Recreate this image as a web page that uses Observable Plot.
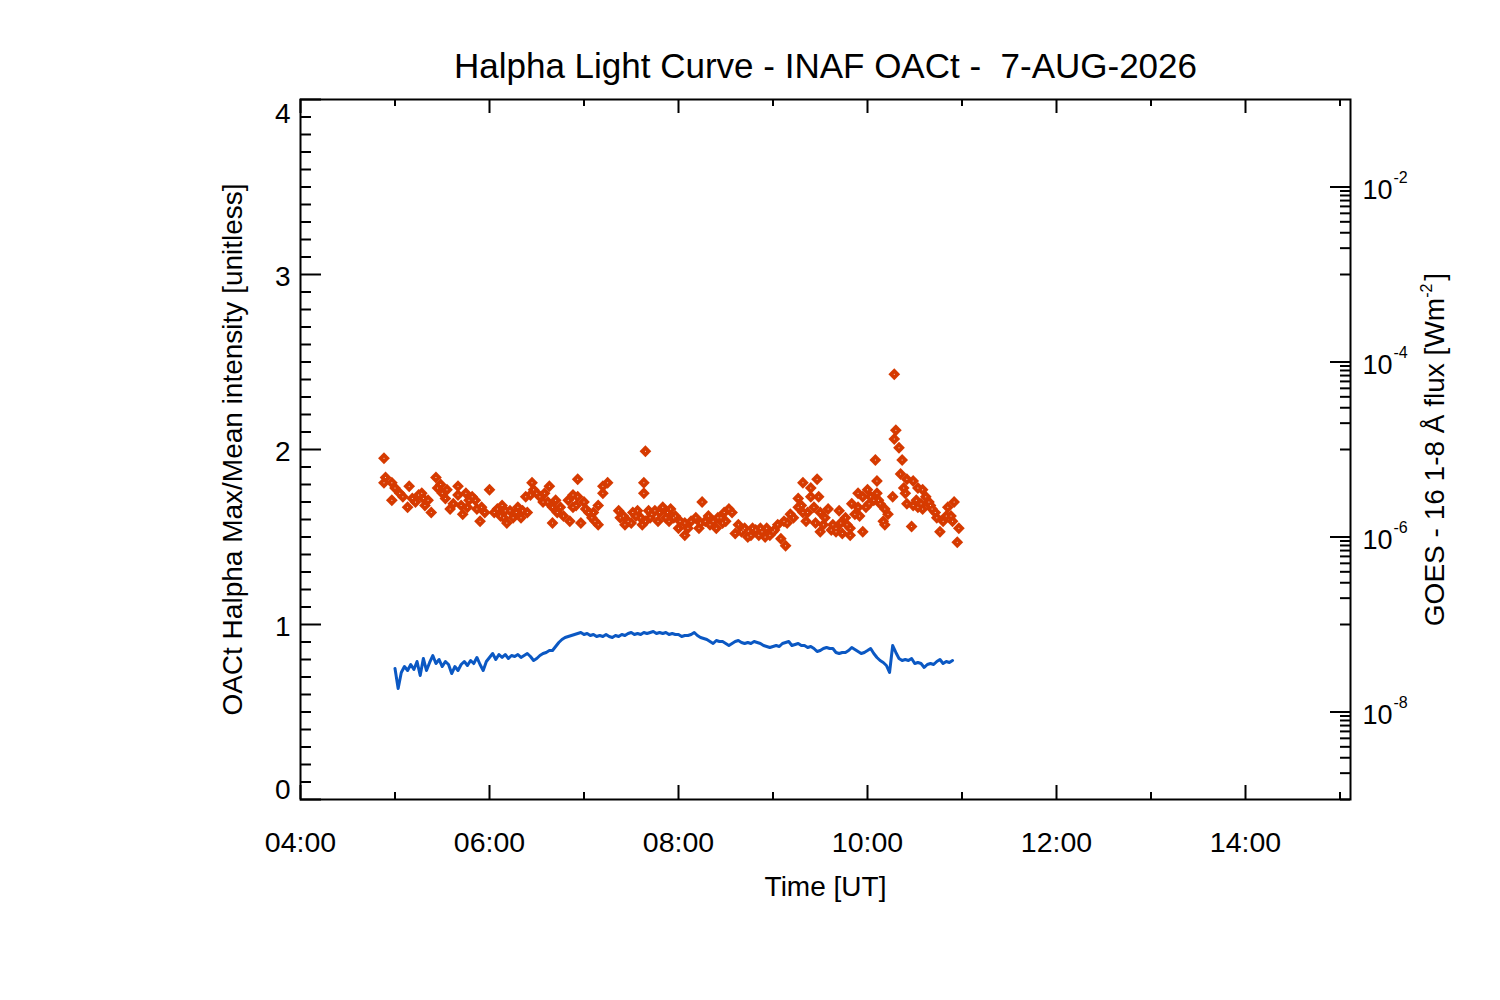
<!DOCTYPE html>
<html>
<head>
<meta charset="utf-8">
<script src="https://cdn.jsdelivr.net/npm/d3@7"></script>
<script src="https://cdn.jsdelivr.net/npm/@observablehq/plot@0.6"></script>
<style>
  body { margin: 0; background: #fff; }
  svg text { white-space: pre; }
</style>
</head>
<body>
<div id="chart"></div>
<script>
// ---------- texts ----------
const titleText = "Halpha Light Curve - INAF OACt -  7-AUG-2026";
const xLabel = "Time [UT]";
const yLabelLeft = "OACt Halpha Max/Mean intensity [unitless]";
const yLabelRightParts = ["GOES - 16 1-8 Å flux [Wm", "-2", "]"];

// ---------- axes ----------
const xTickHours = [4, 5, 6, 7, 8, 9, 10, 11, 12, 13, 14, 15];
const xLabelHours = [4, 6, 8, 10, 12, 14];
const leftTickLabels = [0, 1, 2, 3, 4];
const goesLabelDecades = [-8, -6, -4, -2];
const goesMinorFactors = [1, 2, 3, 4, 5, 6, 7, 8, 9];

// ---------- Halpha max/mean ratio (red diamonds) ----------
const haTime = [
  "04:53","04:53","04:54","04:58","04:58","05:00","05:05","05:08","05:09","05:11",
  "05:13","05:17","05:18","05:19","05:23","05:26","05:27","05:30","05:32","05:35",
  "05:40","05:40","05:42","05:43","05:45","05:47","05:49","05:52","05:54","05:57",
  "06:00","06:05","06:08","06:09","06:11","06:13","06:15","06:18","06:21","06:23",
  "06:24","06:27","06:28","06:30","06:34","06:37","06:38","06:40","06:40","06:43",
  "06:47","06:50","06:51","06:53","06:53","06:56","06:56","06:58","07:00","07:01",
  "07:05","07:06","07:09","07:09","07:12","07:12","07:15","07:22","07:25","07:26",
  "07:28","07:31","07:34","07:36","07:37","07:38","07:38","07:39","07:41","07:42",
  "07:45","07:47","07:50","07:52","07:53","07:55","07:57","08:00","08:04","08:04",
  "08:08","08:11","08:13","08:15","08:17","08:20","08:22","08:25","08:28","08:29",
  "08:32","08:34","08:36","08:38","08:41","08:44","08:49","08:53","08:55","08:56",
  "09:00","09:03","09:05","09:07","09:08","09:11","09:16","09:16","09:19","09:19",
  "09:21","09:24","09:24","09:26","09:27","09:28","09:29","09:30","09:30","09:32",
  "09:35","09:37","09:40","09:42","09:43","09:44","09:46","09:49","09:49","09:50",
  "09:52","09:54","09:54","09:57","09:57","09:59","10:00","10:04","10:05","10:06",
  "10:06","10:08","10:10","10:11","10:11","10:13","10:16","10:17","10:17","10:18",
  "10:20","10:21","10:22","10:23","10:25","10:25","10:28","10:29","10:29","10:32",
  "10:32","10:35","10:35","10:37","10:39","10:41","10:44","10:46","10:48","10:51",
  "10:53","10:55","10:57","10:58",
  "05:03","05:15","05:21","05:29","05:33","05:37","05:46","05:51","05:55","06:03",
  "06:07","06:10","06:17","06:20","06:26","06:32","06:35","06:42","06:45","06:55",
  "07:03","07:07","07:23","07:30","07:33","07:39","07:43","07:48","07:54","07:58",
  "08:01","08:06","08:14","08:19","08:24","08:27","08:30","08:40","08:42","08:46",
  "08:47","08:51","08:52","08:58","09:01","09:09","09:13","09:18","09:22","09:33",
  "09:38","09:40","09:47","09:55","10:01","10:02","10:07","10:24","10:31","10:34",
  "10:40","10:43","10:50","10:54"
];
const haRatio = [
  1.95,1.81,1.84,1.81,1.71,1.78,1.73,1.67,1.79,1.72,
  1.70,1.75,1.72,1.68,1.64,1.84,1.78,1.75,1.72,1.66,
  1.74,1.79,1.68,1.63,1.75,1.71,1.73,1.66,1.59,1.64,
  1.77,1.66,1.68,1.61,1.58,1.65,1.61,1.67,1.65,1.73,
  1.64,1.81,1.77,1.75,1.70,1.70,1.79,1.67,1.58,1.64,
  1.62,1.71,1.59,1.74,1.67,1.83,1.73,1.58,1.70,1.66,
  1.61,1.64,1.57,1.68,1.79,1.75,1.81,1.65,1.62,1.57,
  1.59,1.64,1.65,1.61,1.57,1.81,1.75,1.99,1.65,1.61,
  1.65,1.59,1.67,1.61,1.64,1.66,1.61,1.55,1.58,1.51,
  1.59,1.61,1.55,1.70,1.59,1.57,1.59,1.61,1.58,1.64,
  1.66,1.64,1.52,1.57,1.54,1.50,1.54,1.53,1.50,1.55,
  1.53,1.57,1.49,1.59,1.45,1.63,1.67,1.72,1.64,1.81,
  1.59,1.78,1.73,1.67,1.58,1.83,1.73,1.64,1.53,1.57,
  1.66,1.54,1.55,1.65,1.58,1.52,1.61,1.55,1.51,1.69,
  1.63,1.75,1.67,1.73,1.53,1.67,1.77,1.71,1.94,1.82,
  1.75,1.69,1.59,1.66,1.57,1.63,1.73,2.43,2.06,2.11,
  2.01,1.86,1.94,1.78,1.83,1.69,1.56,1.68,1.82,1.78,
  1.67,1.77,1.66,1.73,1.70,1.66,1.61,1.53,1.59,1.67,
  1.62,1.70,1.47,1.55,
  1.75,1.74,1.71,1.80,1.77,1.69,1.67,1.71,1.67,1.64,
  1.62,1.65,1.64,1.61,1.74,1.73,1.75,1.71,1.67,1.68,
  1.64,1.59,1.61,1.58,1.62,1.59,1.63,1.64,1.59,1.62,
  1.59,1.55,1.58,1.62,1.55,1.61,1.59,1.53,1.55,1.51,
  1.55,1.51,1.55,1.51,1.54,1.58,1.61,1.68,1.64,1.61,
  1.57,1.53,1.57,1.62,1.69,1.73,1.71,1.75,1.71,1.69,
  1.68,1.64,1.62,1.59
];

// ---------- GOES-16 1-8 Å flux (blue line), units of 1e-8 W m^-2 ----------
const goesUnit = 1e-8;
const goesTime = [
  "05:00","05:02","05:04","05:06","05:08","05:10","05:12","05:14","05:16","05:18",
  "05:20","05:22","05:24","05:26","05:28","05:30","05:32","05:34","05:36","05:38",
  "05:40","05:42","05:44","05:46","05:48","05:50","05:52","05:54","05:56","05:58",
  "06:00","06:02","06:04","06:06","06:08","06:10","06:12","06:14","06:16","06:18",
  "06:20","06:22","06:24","06:26","06:28","06:30","06:32","06:34","06:36","06:38",
  "06:40","06:42","06:44","06:46","06:48","06:50","06:52","06:54","06:56","06:58",
  "07:00","07:02","07:04","07:06","07:08","07:10","07:12","07:14","07:16","07:18",
  "07:20","07:22","07:24","07:26","07:28","07:30","07:32","07:34","07:36","07:38",
  "07:40","07:42","07:44","07:46","07:48","07:50","07:52","07:54","07:56","07:58",
  "08:00","08:02","08:04","08:06","08:08","08:10","08:12","08:14","08:16","08:18",
  "08:20","08:22","08:24","08:26","08:28","08:30","08:32","08:34","08:36","08:38",
  "08:40","08:42","08:44","08:46","08:48","08:50","08:52","08:54","08:56","08:58",
  "09:00","09:02","09:04","09:06","09:08","09:10","09:12","09:14","09:16","09:18",
  "09:20","09:22","09:24","09:26","09:28","09:30","09:32","09:34","09:36","09:38",
  "09:40","09:42","09:44","09:46","09:48","09:50","09:52","09:54","09:56","09:58",
  "10:00","10:02","10:04","10:06","10:08","10:10","10:12","10:14","10:16","10:18",
  "10:20","10:22","10:24","10:26","10:28","10:30","10:32","10:34","10:36","10:38",
  "10:40","10:42","10:44","10:46","10:48","10:50","10:52","10:54"
];
const goesFlux = [
  3.14,1.86,2.83,3.31,2.98,3.49,3.06,3.78,2.61,4.09,
  2.98,3.68,4.42,3.58,3.98,3.31,3.78,3.49,2.75,3.31,
  2.98,3.49,3.78,3.40,3.88,3.58,4.20,3.49,2.98,3.78,
  4.20,4.66,3.98,4.54,4.20,4.54,4.09,4.42,4.31,4.54,
  4.20,4.42,4.66,4.31,3.88,4.09,4.42,4.66,4.79,5.04,
  5.04,5.61,6.23,6.74,7.10,7.29,7.48,7.69,7.89,8.11,
  7.69,7.89,7.48,7.69,7.29,7.48,7.29,7.69,7.29,7.10,
  7.48,7.29,7.69,7.48,7.89,8.11,7.69,7.89,7.69,8.11,
  7.89,8.11,8.32,7.89,8.11,7.89,8.11,7.69,7.89,7.69,
  7.69,7.29,7.48,7.48,7.69,8.11,7.48,7.10,6.92,6.74,
  6.39,6.07,6.56,6.39,6.39,6.07,5.75,6.07,6.39,6.56,
  6.23,6.07,6.23,6.07,6.39,6.23,6.07,5.75,5.61,5.46,
  5.61,5.75,5.61,6.07,6.23,6.39,5.75,5.91,6.07,5.75,
  5.75,5.46,5.61,5.32,4.91,5.04,5.32,5.46,5.32,5.32,
  4.79,4.66,4.79,4.79,5.04,5.46,5.18,4.91,4.66,4.79,
  5.04,5.32,4.66,4.20,3.88,3.68,3.40,2.83,5.75,4.79,
  4.09,3.88,3.98,3.88,4.09,3.58,3.68,3.58,3.23,3.49,
  3.58,3.49,3.78,3.98,3.58,3.78,3.68,3.88
];

// ---------- helpers ----------
const hm = s => { const [h, m] = s.split(":").map(Number); return h + m / 60; };
// right log axis: 1e-9 .. 1e-1 spans the left axis 0 .. 4
const goesToLeft = f => (Math.log10(f) + 9) / 2;
const fmtHour = h => String(h).padStart(2, "0") + ":00";

const haData = haTime.map((t, i) => ({t: hm(t), v: haRatio[i]}));
const goesData = goesTime.map((t, i) => ({t: hm(t), f: goesFlux[i] * goesUnit}));

const goesMajor = goesLabelDecades.map(m => Math.pow(10, m));
const goesMinor = goesLabelDecades.flatMap(m => goesMinorFactors.map(k => k * Math.pow(10, m - 1)));

const W = 1500, H = 1000;
const mL = 300, mR = 150, mT = 99, mB = 201;
const fw = W - mL - mR, fh = H - mT - mB;
const FONT = "'Liberation Sans', Arial, Helvetica, sans-serif";
const tick = {stroke: "black", strokeWidth: 2};
const txt = {fill: "black", lineAnchor: "middle"};

const chart = Plot.plot({
  width: W, height: H,
  marginLeft: mL, marginRight: mR, marginTop: mT, marginBottom: mB,
  style: {fontFamily: FONT, background: "white", color: "black"},
  x: {domain: [4, 4 + 1050 / 94.5], axis: null},
  y: {domain: [0, 4], axis: null},
  marks: [
    Plot.frame({stroke: "black", strokeWidth: 2}),
    // bottom & top ticks
    Plot.tickX(xTickHours.filter(h => h % 2 === 0), {x: d => d, insetTop: fh - 14, ...tick}),
    Plot.tickX(xTickHours.filter(h => h % 2 === 1), {x: d => d, insetTop: fh - 7, ...tick}),
    Plot.tickX(xTickHours.filter(h => h % 2 === 0), {x: d => d, insetBottom: fh - 14, ...tick}),
    Plot.tickX(xTickHours.filter(h => h % 2 === 1), {x: d => d, insetBottom: fh - 7, ...tick}),
    // left ticks
    Plot.tickY(d3.range(0, 41).filter(i => i % 10 === 0).map(i => i / 10), {y: d => d, insetRight: fw - 21, ...tick}),
    Plot.tickY(d3.range(0, 41).filter(i => i % 10 !== 0).map(i => i / 10), {y: d => d, insetRight: fw - 11, ...tick}),
    // right (GOES log) ticks
    Plot.tickY(goesMajor, {y: f => goesToLeft(f), insetLeft: fw - 20, ...tick}),
    Plot.tickY(goesMinor, {y: f => goesToLeft(f), insetLeft: fw - 10, ...tick}),
    // x tick labels
    Plot.text(xLabelHours, {x: d => d, frameAnchor: "bottom", dy: 43, text: fmtHour, fontSize: 28.5, ...txt}),
    // left tick labels
    Plot.text(leftTickLabels.filter(v => v > 0 && v < 4), {y: d => d, frameAnchor: "left", dx: -10, dy: 3, text: d => String(d), textAnchor: "end", fontSize: 28, ...txt}),
    Plot.text(leftTickLabels.filter(v => v === 4), {y: d => d, frameAnchor: "left", dx: -10, dy: 15, text: d => String(d), textAnchor: "end", fontSize: 28, ...txt}),
    Plot.text(leftTickLabels.filter(v => v === 0), {y: d => d, frameAnchor: "left", dx: -10, dy: -9, text: d => String(d), textAnchor: "end", fontSize: 28, ...txt}),
    // right tick labels: 10 with superscript exponent
    Plot.text(goesLabelDecades, {y: m => goesToLeft(Math.pow(10, m)), frameAnchor: "right", dx: 12, dy: 3, text: () => "10", textAnchor: "start", fontSize: 27, ...txt}),
    Plot.text(goesLabelDecades, {y: m => goesToLeft(Math.pow(10, m)), frameAnchor: "right", dx: 43, dy: -9, text: m => String(m), textAnchor: "start", fontSize: 16, ...txt}),
    // axis titles
    Plot.text([xLabel], {frameAnchor: "bottom", dy: 88, fontSize: 28, textAnchor: "middle", ...txt}),
    Plot.text([yLabelLeft], {frameAnchor: "left", dx: -67, rotate: -90, fontSize: 28, textAnchor: "middle", ...txt}),
    Plot.text([yLabelRightParts.join("")], {frameAnchor: "right", dx: 85, rotate: -90, fontSize: 28, textAnchor: "middle", ...txt}),
    Plot.text([titleText], {frameAnchor: "top", dy: -33, fontSize: 35, textAnchor: "middle", ...txt}),
    // data
    Plot.line(goesData, {x: "t", y: d => goesToLeft(d.f), stroke: "#0b58c3", strokeWidth: 3}),
    Plot.dot(haData, {x: "t", y: "v", symbol: "diamond2", r: 5.3, fill: "#d63a00", stroke: "none"}),
    Plot.dot(haData, {x: "t", y: "v", r: 0.5, fill: "white", stroke: "none"})
  ]
});

// superscript in right axis title
const rightTitle = [...chart.querySelectorAll("text")].find(t => t.textContent === yLabelRightParts.join(""));
if (rightTitle) {
  const ns = "http://www.w3.org/2000/svg";
  rightTitle.textContent = "";
  const a = document.createElementNS(ns, "tspan"); a.textContent = yLabelRightParts[0];
  const b = document.createElementNS(ns, "tspan"); b.textContent = yLabelRightParts[1];
  b.setAttribute("dy", "-12"); b.setAttribute("font-size", "16");
  const c = document.createElementNS(ns, "tspan"); c.textContent = yLabelRightParts[2];
  c.setAttribute("dy", "12"); c.setAttribute("dx", "3");
  rightTitle.append(a, b, c);
}
document.getElementById("chart").appendChild(chart);
</script>
</body>
</html>
